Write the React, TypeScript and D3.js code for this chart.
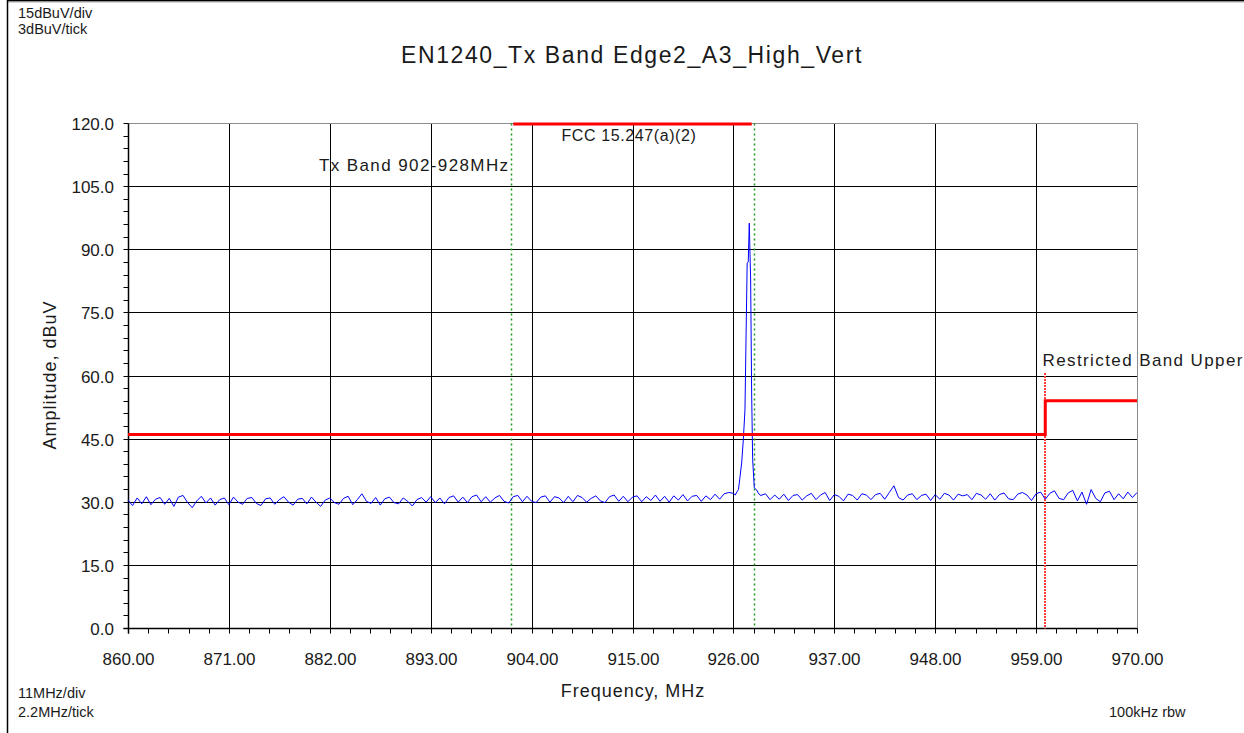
import React from "react";
import * as d3 from "d3";

// ---- data ----
const title = "EN1240_Tx Band Edge2_A3_High_Vert";
const xDomain = [860, 970];
const yDomain = [0, 120];
const xMajorStep = 11;
const xMinorStep = 2.2;
const yMajorStep = 15;
const yMinorStep = 3;

// sweep: start 860 MHz, 0.5 MHz per point (nulls = replaced by peakPoints)
const sweepStart = 860;
const sweepStep = 0.5;
const noiseLevels: (number | null)[] = [
  30.4, 29.1, 30.9, 29.5, 31.2, 29.3, 30.6, 31.0, 29.4, 30.8, 28.9, 31.1, 31.5, 29.8, 28.6, 30.2, 31.3, 29.7, 30.9, 29.2, 30.5, 30.9,
  29.3, 31.1, 29.9, 29.4, 30.8, 31.0, 29.6, 29.1, 30.7, 30.9, 29.4, 30.5, 31.2, 29.9, 29.2, 30.6, 30.8, 29.5, 31.1, 29.9, 28.9, 30.4,
  30.9, 29.8, 29.4, 30.8, 31.3, 29.3, 30.5, 31.9, 30.1, 29.6, 31.0, 29.2, 30.7, 31.1, 29.8, 29.5, 30.9, 30.1, 29.0, 30.5, 31.0, 29.9,
  31.2, 29.8, 30.9, 29.5, 31.0, 31.4, 29.9, 31.1, 29.8, 31.2, 31.6, 30.0, 31.2, 29.9, 30.9, 31.5, 30.1, 29.7, 31.2, 31.5, 30.0, 31.3,
  30.1, 29.8, 31.1, 31.4, 29.9, 31.2, 30.9, 29.8, 31.3, 30.0, 31.5, 31.0, 29.9, 30.8, 31.4, 30.2, 29.8, 31.2, 31.6, 30.1, 31.3, 30.0,
  31.1, 31.4, 30.0, 31.2, 30.3, 31.6, 30.1, 31.3, 29.9, 31.4, 30.4, 31.7, 30.2, 31.3, 31.5, 30.1, 31.4, 30.5, 31.8, 30.6, 31.9, 32.2,
  32.0, null, null, null, null, null, 31.5,
  31.9, 30.5, 31.6, 30.6, 31.8, 30.3, 31.5, 31.7, 30.4, 31.4, 32.0, 30.5, 31.6, 32.2, 30.3, 31.7, 31.3, 30.2, 31.8, 31.5, 30.4, 31.9,
  31.6, 30.5, 31.7, 32.0, 30.6, 32.2, 33.8, 31.0, 30.4, 31.6, 31.9, 30.5, 31.5, 31.8, 30.3, 31.7, 30.6, 32.0, 31.6, 30.4, 31.8, 31.4,
  31.7, 30.5, 32.0, 31.6, 30.6, 31.9, 30.4, 31.7, 32.1, 30.7, 30.5, 31.8, 32.2, 31.6, 30.3, 31.9, 32.3, 30.6, 32.0, 32.6, 30.8, 30.5,
  32.1, 32.7, 30.2, 32.3, 29.4, 32.9, 30.8, 30.0, 32.1, 32.5, 30.5, 31.9, 30.7, 32.3, 31.0, 32.2,
];

// carrier peak near the upper band edge: [MHz, dBuV]
const peakPoints: [number, number][] = [
  [926.2, 31.6], [926.4, 32.4], [926.55, 32.9], [926.7, 35.5], [926.9, 39.2],
  [927.08, 44.7], [927.26, 51.8], [927.37, 67.7], [927.5, 86.7], [927.62, 87.0],
  [927.73, 96.2], [927.88, 82.7], [927.99, 55.8], [928.1, 40.0], [928.28, 33.3],
  [928.54, 32.8], [928.7, 32.1], [928.9, 31.6],
];

// limit lines
const limitSteps: [number, number][] = [[860, 46], [960, 46], [960, 54], [970, 54]];
const fccLimit: [number, number][] = [[902, 120], [928, 120]];
const txBandMarkers = [901.7, 928.3];
const restrictedMarker = { freq: 960, top: 60.6 };

const cornerTexts = ["15dBuV/div", "3dBuV/tick"];
const bottomTexts = ["11MHz/div", "2.2MHz/tick"];

export default function App() {
  const W = 1244, H = 733;
  const x = d3.scaleLinear().domain(xDomain).range([128, 1137]);
  const y = d3.scaleLinear().domain(yDomain).range([628, 123]);
  const px = (v: number) => Math.round(x(v)) + 0.5;
  const py = (v: number) => Math.round(y(v)) + 0.5;

  const xMajor = d3.range(xDomain[0], xDomain[1] + 0.001, xMajorStep);
  const xMinor = d3.range(xDomain[0], xDomain[1] + 0.001, xMinorStep);
  const yMajor = d3.range(yDomain[0], yDomain[1] + 0.001, yMajorStep);
  const yMinor = d3.range(yDomain[0], yDomain[1] + 0.001, yMinorStep);

  const pts: [number, number][] = noiseLevels
    .map((v, i) => [sweepStart + i * sweepStep, v] as [number, number | null])
    .filter((p) => p[1] !== null) as [number, number][];
  const trace = pts.concat(peakPoints).sort((a, b) => a[0] - b[0]);

  const line = d3.line<[number, number]>().x((d) => x(d[0])).y((d) => y(d[1]));

  const font = "'Liberation Sans', Arial, sans-serif";
  const x0 = px(xDomain[0]), x1 = px(xDomain[1]);
  const y0 = py(yDomain[0]), y1 = py(yDomain[1]);
  const txt = "#1a1a1a";

  return (
    <svg width={W} height={H} style={{ position: "absolute", left: 0, top: 0, background: "#fff" }} fontFamily={font}>
      {/* outer frame */}
      <line x1={7} y1={0.75} x2={W} y2={0.75} stroke="#000" strokeWidth={1.5} />
      <line x1={7} y1={2} x2={W} y2={2} stroke="#aaa" strokeWidth={1} />
      <line x1={7.5} y1={0} x2={7.5} y2={H} stroke="#000" strokeWidth={1.5} />

      {cornerTexts.map((t, i) => (
        <text key={t} x={18} y={18 + i * 16} fontSize={14.5} fill={txt}>{t}</text>
      ))}
      {bottomTexts.map((t, i) => (
        <text key={t} x={18} y={698 + i * 19} fontSize={14.5} fill={txt}>{t}</text>
      ))}
      <text x={1109} y={717} fontSize={14.5} fill={txt}>100kHz rbw</text>

      <text x={632} y={63} fontSize={23} letterSpacing={1.6} textAnchor="middle" fill={txt}>{title}</text>

      {/* grid */}
      {xMajor.slice(1, -1).map((v) => (
        <line key={"gx" + v} x1={px(v)} x2={px(v)} y1={y1} y2={y0} stroke="#000" strokeWidth={1} />
      ))}
      {yMajor.slice(1, -1).map((v) => (
        <line key={"gy" + v} x1={x0} x2={x1} y1={py(v)} y2={py(v)} stroke="#000" strokeWidth={1} />
      ))}
      <line x1={x0} x2={x1} y1={y1} y2={y1} stroke="#8c8c8c" strokeWidth={1} />
      <line x1={x1} x2={x1} y1={y1} y2={y0} stroke="#8c8c8c" strokeWidth={1} />

      {/* axes */}
      <line x1={x0} x2={x0} y1={y1} y2={y0 + 5} stroke="#000" strokeWidth={1.5} />
      <line x1={x0 - 5} x2={x1} y1={y0} y2={y0} stroke="#000" strokeWidth={1.5} />
      {yMinor.map((v) => (
        <line key={"ty" + v} x1={x0 - 5} x2={x0} y1={py(v)} y2={py(v)} stroke="#000" strokeWidth={1} />
      ))}
      {xMinor.map((v) => (
        <line key={"tx" + v} x1={px(v)} x2={px(v)} y1={y0} y2={y0 + 5} stroke="#000" strokeWidth={1} />
      ))}
      {yMajor.map((v) => (
        <text key={"ly" + v} x={114} y={py(v) + 6} fontSize={17} textAnchor="end" fill={txt}>{d3.format(".1f")(v)}</text>
      ))}
      {xMajor.map((v) => (
        <text key={"lx" + v} x={px(v)} y={665} fontSize={17} textAnchor="middle" fill={txt}>{d3.format(".2f")(v)}</text>
      ))}
      <text x={633} y={697} fontSize={18} letterSpacing={1} textAnchor="middle" fill={txt}>Frequency, MHz</text>
      <text transform="translate(56,375) rotate(-90)" fontSize={18} letterSpacing={1} textAnchor="middle" fill={txt}>Amplitude, dBuV</text>

      {/* band markers */}
      {txBandMarkers.map((f) => (
        <line key={"tb" + f} x1={px(f)} x2={px(f)} y1={y1} y2={y0} stroke="#1f9a1f" strokeWidth={1.5} strokeDasharray="2,3" />
      ))}
      <line x1={px(restrictedMarker.freq) - 0.5} x2={px(restrictedMarker.freq) - 0.5} y1={y(restrictedMarker.top)} y2={y0}
        stroke="#ff3c3c" strokeWidth={2} strokeDasharray="2,1" />

      {/* trace */}
      <path d={line(trace) || ""} fill="none" stroke="#0000ff" strokeWidth={1} />

      {/* limits */}
      <path d={line(limitSteps) || ""} fill="none" stroke="#ff0000" strokeWidth={3} />
      <path d={line(fccLimit) || ""} fill="none" stroke="#ff0000" strokeWidth={3} transform="translate(0,1)" />

      {/* labels */}
      <text x={px(txBandMarkers[0]) - 2} y={171} fontSize={17} letterSpacing={1.4} textAnchor="end" fill={txt}>Tx Band 902-928MHz</text>
      <text x={629} y={141} fontSize={16} letterSpacing={0.6} textAnchor="middle" fill={txt}>FCC 15.247(a)(2)</text>
      <text x={px(restrictedMarker.freq) - 3} y={366} fontSize={17} letterSpacing={1.4} fill={txt}>Restricted Band Upper</text>
    </svg>
  );
}
